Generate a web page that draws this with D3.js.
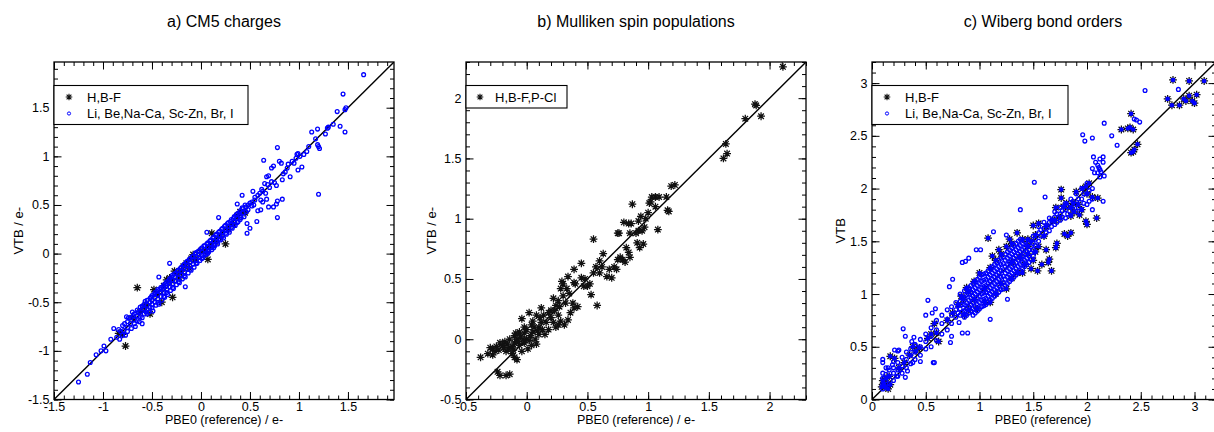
<!DOCTYPE html>
<html>
<head>
<meta charset="utf-8">
<script src="https://cdn.jsdelivr.net/npm/d3@7"></script>
<style>
  body { margin: 0; background: #fff; }
  svg { font-family: "Liberation Sans", Arial, Helvetica, sans-serif; }
</style>
</head>
<body>
<div id="chart"></div>
<script>
// ---- data ----
var titles = ['a) CM5 charges', 'b) Mulliken spin populations', 'c) Wiberg bond orders'];
var xTitles = ['PBE0 (reference)  / e-', 'PBE0 (reference) / e-', 'PBE0 (reference)'];
var yTitles = ['VTB / e-', 'VTB / e-', 'VTB'];
var legendA = ['H,B-F', 'Li, Be,Na-Ca, Sc-Zn, Br, I'];
var legendB = ['H,B-F,P-Cl'];
var legendC = ['H,B-F', 'Li, Be,Na-Ca, Sc-Zn, Br, I'];

var ticksA = [-1.5, -1, -0.5, 0, 0.5, 1, 1.5];
var ticksB = [-0.5, 0, 0.5, 1, 1.5, 2];
var ticksC = [0, 0.5, 1, 1.5, 2, 2.5, 3];

// panel a, H,B-F
var aStars = [[-0.77,-0.95],[-0.80,-0.83],[-0.84,-0.82],[-0.65,-0.35],[-0.48,-0.37],[-0.29,-0.45],
  [-0.52,-0.62],[-0.40,-0.50],[-0.32,-0.25],[-0.08,-0.01],[0.07,-0.06],[0.11,0.21],[0.25,0.10],
  [0.37,0.39],[-0.70,-0.66],[-0.62,-0.60],[-0.56,-0.52],[-0.45,-0.42],[-0.38,-0.33],[-0.30,-0.28],
  [-0.25,-0.20],[-0.20,-0.18],[-0.15,-0.10],[-0.10,-0.05],[-0.05,-0.06],[0.00,0.03],[0.05,0.02],
  [0.10,0.08],[0.15,0.12],[0.20,0.18],[0.28,0.25],[0.33,0.30],[0.40,0.43],[0.45,0.42],
  [-0.35,-0.27],[-0.22,-0.25],[-0.58,-0.55],[-0.12,-0.15],[-0.27,-0.18],[-0.18,-0.13]];

// panel a, other elements
var aCircles = [[1.66,1.84],[1.45,1.64],[1.39,1.46],[1.47,1.48],[1.48,1.50],[1.42,1.31],[1.47,1.25],
  [1.29,1.29],[1.27,1.23],[1.19,1.28],[1.17,1.18],[1.19,1.12],[1.21,1.08],[1.20,1.10],[1.13,1.25],
  [1.10,1.10],[0.78,1.09],[0.64,0.96],[0.80,0.95],[0.82,0.93],[0.88,0.88],[0.97,0.98],[0.99,1.03],
  [1.01,1.00],[0.98,1.02],[1.03,0.89],[0.91,0.79],[0.99,0.86],[1.20,0.61],[0.78,0.37],[0.74,0.48],
  [0.77,0.51],[0.72,0.88],[0.74,0.90],[0.67,0.79],[0.69,0.80],[0.65,0.72],[0.57,0.33],[0.58,0.44],
  [0.47,0.21],[0.50,0.26],[0.42,0.60],[0.53,0.64],[0.61,0.55],[0.63,0.53],[0.84,0.82],[0.86,0.84],
  [0.93,0.95],[0.95,0.93],[0.70,0.68],[0.75,0.73],[0.62,0.66],[0.60,0.62],[0.55,0.55],[0.52,0.49],
  [0.48,0.50],[0.66,0.62],[0.89,0.92],[1.05,1.02],[1.08,1.05],[1.30,1.30],[1.35,1.33],[0.77,0.70],
  [0.83,0.76],[0.78,0.54],[0.83,0.56],[0.69,0.48],[0.67,0.56],[0.61,0.45],[0.55,0.58],
  [-1.25,-1.32],[-1.16,-1.24],[-1.13,-1.12],[-1.07,-1.04],[-0.99,-0.95],[-0.97,-1.00],[-1.02,-1.00],
  [-0.89,-0.77],[-0.78,-0.72],[-0.76,-0.65],[-0.70,-0.60],[-0.60,-0.72],[-0.43,-0.24],[-0.32,-0.10],
  [-0.16,-0.34],[0.18,0.37],[0.06,0.22],[0.37,0.51],[0.47,0.31],[-0.92,-0.88],[-0.86,-0.86],
  [-0.82,-0.80],[-0.80,-0.84],
  [-0.75,-0.70],[-0.75,-0.76],[-0.75,-0.80],[-0.72,-0.66],[-0.72,-0.72],[-0.68,-0.62],[-0.68,-0.68],
  [-0.68,-0.72],[-0.65,-0.58],[-0.65,-0.64],[-0.65,-0.69],[-0.62,-0.55],[-0.62,-0.60],[-0.62,-0.65],
  [-0.58,-0.52],[-0.58,-0.57],[-0.58,-0.62],[-0.55,-0.48],[-0.55,-0.53],[-0.55,-0.58],[-0.55,-0.62],
  [-0.52,-0.46],[-0.52,-0.50],[-0.52,-0.55],[-0.50,-0.43],[-0.50,-0.48],[-0.50,-0.52],[-0.50,-0.56],
  [-0.47,-0.40],[-0.47,-0.45],[-0.47,-0.50],[-0.44,-0.37],[-0.44,-0.42],[-0.44,-0.47],[-0.44,-0.50],
  [-0.41,-0.35],[-0.41,-0.40],[-0.41,-0.44],[-0.38,-0.32],[-0.38,-0.36],[-0.38,-0.40],[-0.38,-0.44],
  [-0.35,-0.29],[-0.35,-0.33],[-0.35,-0.37],[-0.35,-0.40],[-0.32,-0.26],[-0.32,-0.30],[-0.32,-0.34],
  [-0.29,-0.22],[-0.29,-0.27],[-0.29,-0.31],[-0.29,-0.35],[-0.26,-0.20],[-0.26,-0.24],[-0.26,-0.28],
  [-0.23,-0.17],[-0.23,-0.21],[-0.23,-0.25],[-0.23,-0.29],[-0.20,-0.14],[-0.20,-0.18],[-0.20,-0.22],
  [-0.17,-0.11],[-0.17,-0.15],[-0.17,-0.19],[-0.17,-0.23],[-0.14,-0.08],[-0.14,-0.12],[-0.14,-0.16],
  [-0.11,-0.05],[-0.11,-0.09],[-0.11,-0.13],[-0.11,-0.16],[-0.08,-0.03],[-0.08,-0.07],[-0.08,-0.11],
  [-0.05,0.01],[-0.05,-0.03],[-0.05,-0.07],[-0.05,-0.10],[-0.02,0.03],[-0.02,-0.01],[-0.02,-0.04],
  [0.01,0.06],[0.01,0.02],[0.01,-0.02],[0.01,-0.05],[0.04,0.08],[0.04,0.04],[0.04,0.00],
  [0.07,0.11],[0.07,0.07],[0.07,0.03],[0.07,0.00],[0.10,0.14],[0.10,0.10],[0.10,0.06],
  [0.13,0.17],[0.13,0.13],[0.13,0.09],[0.13,0.06],[0.16,0.20],[0.16,0.16],[0.16,0.12],
  [0.19,0.23],[0.19,0.19],[0.19,0.15],[0.22,0.26],[0.22,0.22],[0.22,0.18],[0.25,0.29],[0.25,0.25],
  [0.25,0.21],[0.28,0.32],[0.28,0.28],[0.28,0.24],[0.31,0.35],[0.31,0.30],[0.31,0.27],[0.34,0.38],
  [0.34,0.33],[0.34,0.30],[0.37,0.41],[0.37,0.36],[0.37,0.32],[0.40,0.44],[0.40,0.39],[0.40,0.35],
  [0.43,0.46],[0.43,0.42],[0.46,0.48],[0.46,0.43],
  [-0.84,-0.78],[-0.83,-0.88],[-0.80,-0.74],[-0.79,-0.79],[-0.77,-0.84],[-0.74,-0.66],[-0.71,-0.77],
  [-0.69,-0.64],[-0.67,-0.75],[-0.64,-0.60],[-0.63,-0.70],[-0.60,-0.54],[-0.60,-0.66],[-0.57,-0.49],
  [-0.56,-0.60],[-0.53,-0.60],[-0.51,-0.45],[-0.49,-0.59],[-0.48,-0.42],[-0.46,-0.53],[-0.45,-0.39],
  [-0.43,-0.52],[-0.42,-0.37],[-0.40,-0.48],[-0.39,-0.34],[-0.37,-0.45],[-0.36,-0.31],[-0.34,-0.42],
  [-0.33,-0.28],[-0.31,-0.38],[-0.30,-0.24],[-0.28,-0.36],[-0.27,-0.21],[-0.25,-0.32],[-0.24,-0.18],
  [-0.22,-0.30],[-0.21,-0.15],[-0.19,-0.26],[-0.18,-0.12],[-0.16,-0.24],[-0.15,-0.09],[-0.13,-0.20],
  [-0.12,-0.06],[-0.10,-0.17],[-0.09,-0.03],[-0.07,-0.14],[-0.06,0.00],[-0.04,-0.10],[-0.03,0.02],
  [-0.01,-0.07],[0.00,0.05],[0.02,-0.04],[0.03,0.08],[0.05,-0.01],[0.06,0.10],[0.08,0.02],[0.09,0.13],
  [0.11,0.04],[0.12,0.16],[0.14,0.08],[0.15,0.19],[0.17,0.10],[0.18,0.22],[0.20,0.14],[0.21,0.25],
  [0.23,0.16],[0.24,0.28],[0.26,0.20],[0.27,0.31],[0.29,0.22],[0.30,0.33],[0.32,0.26],[0.33,0.36],
  [0.35,0.29],[0.36,0.40],[0.38,0.33],[0.39,0.42],[0.41,0.37],[0.42,0.47],[0.44,0.38],[0.45,0.50],
  [0.48,0.45],[0.50,0.52],[0.52,0.53],[0.54,0.50],[0.58,0.60],[0.63,0.64],[0.68,0.71],[0.72,0.74]];

// panel b, H,B-F,P-Cl
var bStars = [[2.11,2.26],[1.89,1.94],[1.88,1.95],[1.80,1.83],[1.93,1.85],[1.62,1.50],[1.64,1.62],
  [1.65,1.54],[1.22,1.28],[1.19,1.27],[1.15,1.18],[1.17,1.06],[1.16,1.07],[1.06,1.18],[1.09,1.18],
  [1.03,1.18],[1.02,1.14],[1.01,1.13],[1.06,1.10],[0.87,1.12],[0.92,0.98],[0.94,1.02],[0.98,1.00],
  [1.00,1.05],[0.97,0.93],[1.08,0.91],[0.86,0.96],[0.84,0.96],[0.85,0.88],[0.80,0.97],[0.76,0.88],
  [0.75,0.88],[0.92,0.90],[0.95,0.90],[0.90,0.88],[0.91,0.80],[0.93,0.76],[0.96,0.79],[0.82,0.76],
  [0.84,0.72],[0.85,0.68],[0.79,0.66],[0.81,0.64],[0.77,0.68],[0.75,0.66],[0.63,0.71],[0.55,0.83],
  [0.60,0.65],[0.62,0.60],[0.66,0.52],[0.70,0.51],[0.68,0.58],[0.72,0.60],[0.74,0.58],[0.58,0.28],
  [0.53,0.37],[0.50,0.44],[0.45,0.51],[0.39,0.47],[0.40,0.46],[0.45,0.63],[0.39,0.58],[0.34,0.52],
  [0.30,0.46],[0.29,0.48],[0.28,0.42],[0.33,0.42],[0.35,0.38],[0.30,0.36],[0.26,0.32],[0.32,0.30],
  [0.38,0.30],[0.42,0.27],[0.39,0.26],[0.36,0.22],[0.34,0.16],[0.31,0.12],[0.24,0.28],[0.26,0.20],
  [0.28,0.15],[0.22,0.34],[0.20,0.24],[0.24,0.10],[0.22,0.14],[0.26,0.12],[0.14,0.20],[0.12,0.26],
  [0.16,0.14],[0.13,0.08],[0.10,0.10],[0.08,0.20],[0.02,0.22],[-0.04,0.17],[0.10,0.04],[0.07,0.00],
  [0.05,0.06],[0.03,0.03],[0.00,0.08],[0.00,0.00],[-0.02,0.05],[-0.02,-0.03],[-0.05,0.02],
  [-0.06,-0.05],[-0.08,0.00],[-0.10,-0.03],[-0.10,0.03],[-0.12,-0.06],[-0.14,0.00],[-0.16,-0.04],
  [-0.18,-0.02],[-0.20,-0.05],[-0.22,-0.03],[-0.25,-0.06],[-0.28,-0.08],[-0.30,-0.07],[-0.32,-0.12],
  [-0.38,-0.15],[-0.24,-0.27],[-0.22,-0.30],[-0.17,-0.30],[-0.14,-0.29],[-0.08,-0.17],[-0.10,-0.15],
  [-0.17,-0.10],[-0.13,-0.07],[-0.12,-0.12],[0.04,-0.05],[0.06,0.10],[0.15,0.04],[0.18,0.08],
  [-0.04,-0.10],[-0.26,-0.10],[-0.28,-0.13],[0.12,0.14],[0.20,0.18],[0.47,0.44],[0.48,0.50],
  [0.52,0.46],[0.55,0.55],[0.60,0.55],[0.57,0.60],[-0.06,0.06],[0.04,0.12],[-0.15,-0.08],[0.08,-0.04],
  [-0.07,-0.02],[-0.03,0.00],[0.01,-0.08],[-0.11,-0.09],[-0.19,-0.07],[-0.23,-0.09],[-0.02,0.10],
  [0.05,0.15],[0.09,0.07],[0.02,-0.01],[-0.09,0.05],[0.11,0.18],[0.18,0.22],[0.23,0.24],[0.27,0.27]];

// panel c, H,B-F
var cStars = [[2.80,3.03],[2.95,3.02],[3.09,3.02],[2.75,2.85],[2.79,2.79],[2.86,2.79],[2.90,2.85],
  [2.92,2.83],[2.95,2.88],[3.02,2.89],[3.00,2.81],[2.98,2.83],[2.41,2.71],[2.32,2.56],[2.38,2.57],
  [2.40,2.58],[2.43,2.56],[2.41,2.34],[2.43,2.35],[2.44,2.37],[2.47,2.42],[1.76,1.99],[1.76,1.91],
  [1.71,1.82],[1.78,1.83],[1.81,1.86],[1.87,1.86],[1.90,1.97],[1.96,2.00],[1.99,2.02],[2.02,2.05],
  [2.10,1.91],[2.09,1.72],[2.00,1.66],[1.99,1.69],[1.93,1.75],[1.85,1.74],[1.82,1.55],[1.85,1.58],
  [1.79,1.57],[1.71,1.44],[1.72,1.48],[1.65,1.33],[1.64,1.30],[1.67,1.22],[1.54,1.22],[1.62,1.42],
  [1.52,1.56],[1.62,1.64],[1.50,1.65],[1.55,1.67],[1.68,1.70],[1.08,1.53],[1.35,1.58],[1.40,1.52],
  [1.30,1.48],[1.25,1.45],[1.45,1.45],[1.20,1.38],[1.15,1.32],[1.10,1.25],[1.30,1.30],[1.38,1.35],
  [1.42,1.28],[1.00,1.20],[0.95,1.12],[0.90,1.02],[0.85,0.95],[0.80,0.90],[0.95,0.95],[1.05,1.05],
  [1.20,1.10],[1.30,1.15],[1.35,1.20],[1.15,1.00],[1.05,0.92],[0.90,0.85],[0.58,0.72],[0.60,0.63],
  [0.44,0.49],[0.41,0.46],[0.17,0.41],[0.21,0.39],[0.10,0.18],[0.12,0.12],[0.15,0.10],[0.09,0.12],
  [0.11,0.15],[0.17,0.14],[0.13,0.20],[0.16,0.22],[1.85,1.82],[1.92,1.85],[2.05,1.92],[2.00,1.95],
  [1.95,1.80],[1.88,1.78],[1.70,1.70],[1.75,1.72],[1.60,1.55],[1.48,1.50],[1.55,1.45],[1.45,1.38],
  [1.58,1.28],[1.50,1.32],[1.52,1.40],[0.35,0.42],[0.38,0.50],[0.25,0.30],[0.30,0.35],[0.52,0.58],
  [0.55,0.62],[0.62,0.55],[0.70,0.75],[0.75,0.82],[0.83,0.98],[0.88,1.06],[1.12,1.36],[1.18,1.42],
  [1.28,1.52],[1.45,1.52],[1.48,1.24],[1.40,1.20],[1.25,1.05],[1.10,0.92],[0.98,0.86],[0.86,0.80]];

// panel c, other elements
var cCircles = [[2.54,2.93],[2.85,2.94],[2.16,2.62],[1.96,2.51],[1.98,2.45],[2.05,2.48],[2.23,2.50],
  [2.28,2.41],[2.44,2.66],[2.46,2.65],[2.49,2.63],[2.06,2.30],[2.08,2.25],[2.11,2.20],[2.13,2.16],
  [2.16,2.12],[2.12,2.11],[2.05,2.19],[2.07,2.15],[2.15,1.88],[1.51,2.06],[1.61,1.92],[1.38,1.80],
  [1.13,1.59],[1.25,1.56],[0.97,1.42],[1.01,1.42],[0.84,1.30],[0.90,1.34],[0.87,1.31],[0.75,1.14],
  [0.72,1.07],[0.52,0.94],[0.59,0.86],[0.50,0.80],[0.56,0.82],[0.29,0.67],[0.31,0.60],[0.39,0.59],
  [0.37,0.55],[0.40,0.52],[0.25,0.47],[0.24,0.46],[0.21,0.47],[0.10,0.38],[0.10,0.35],[0.15,0.30],
  [0.19,0.33],[0.26,0.28],[0.33,0.27],[0.31,0.21],[0.23,0.22],[0.38,0.35],[0.45,0.36],[0.58,0.35],
  [0.57,0.35],[0.89,0.63],[0.84,0.63],[1.10,0.76],[1.26,0.95],[0.73,0.54],[0.74,0.60],[0.81,0.73],
  [0.78,0.78],[0.78,0.85],[0.78,0.92],[0.82,0.80],[0.82,0.86],[0.82,0.93],[0.82,1.00],
  [0.86,0.78],[0.86,0.84],[0.86,0.90],[0.86,0.97],[0.86,1.03],[0.90,0.82],[0.90,0.88],[0.90,0.94],
  [0.90,1.00],[0.90,1.06],[0.94,0.80],[0.94,0.86],[0.94,0.92],[0.94,0.98],[0.94,1.04],[0.94,1.10],
  [0.98,0.84],[0.98,0.90],[0.98,0.96],[0.98,1.02],[0.98,1.08],[0.98,1.14],[1.02,0.88],[1.02,0.94],
  [1.02,1.00],[1.02,1.06],[1.02,1.12],[1.02,1.18],[1.06,0.90],[1.06,0.96],[1.06,1.02],[1.06,1.08],
  [1.06,1.14],[1.06,1.20],[1.10,0.94],[1.10,1.00],[1.10,1.06],[1.10,1.12],[1.10,1.18],[1.10,1.24],
  [1.14,0.98],[1.14,1.04],[1.14,1.10],[1.14,1.16],[1.14,1.22],[1.14,1.28],[1.18,1.02],[1.18,1.08],
  [1.18,1.14],[1.18,1.20],[1.18,1.26],[1.18,1.32],[1.22,1.05],[1.22,1.11],[1.22,1.17],[1.22,1.23],
  [1.22,1.29],[1.22,1.35],[1.26,1.10],[1.26,1.16],[1.26,1.22],[1.26,1.28],[1.26,1.34],[1.26,1.40],
  [1.30,1.14],[1.30,1.20],[1.30,1.26],[1.30,1.32],[1.30,1.38],[1.30,1.44],[1.34,1.18],[1.34,1.24],
  [1.34,1.30],[1.34,1.36],[1.34,1.42],[1.34,1.48],[1.38,1.22],[1.38,1.28],[1.38,1.34],[1.38,1.40],
  [1.38,1.46],[1.38,1.52],[1.42,1.26],[1.42,1.32],[1.42,1.38],[1.42,1.44],[1.42,1.50],[1.46,1.30],
  [1.46,1.36],[1.46,1.42],[1.46,1.48],[1.50,1.36],[1.50,1.42],[1.50,1.48],[1.50,1.55],[1.55,1.50],
  [1.55,1.58],[1.55,1.64],[1.60,1.55],[1.60,1.62],[1.60,1.68],[1.65,1.60],[1.65,1.68],[1.65,1.72],
  [1.70,1.66],[1.70,1.73],[1.70,1.78],[1.75,1.70],[1.75,1.76],[1.75,1.82],[1.80,1.72],[1.80,1.80],
  [1.80,1.86],[1.85,1.75],[1.85,1.82],[1.85,1.90],[1.90,1.78],[1.90,1.85],[1.90,1.95],[1.95,1.80],
  [1.95,1.90],[1.95,2.00],[2.00,1.85],[2.00,1.95],[2.00,2.05],[2.05,1.80],[2.05,1.90],[2.05,2.00],
  [2.10,2.15],[2.10,2.22],[2.12,2.18],[2.12,2.28],[2.15,2.25],[2.15,2.30],
  [0.10,0.10],[0.10,0.15],[0.10,0.20],[0.10,0.25],[0.13,0.12],[0.13,0.18],[0.13,0.24],[0.13,0.30],
  [0.16,0.15],[0.16,0.22],[0.16,0.28],[0.20,0.18],[0.20,0.25],[0.20,0.30],[0.20,0.36],[0.24,0.22],
  [0.24,0.28],[0.24,0.35],[0.28,0.25],[0.28,0.32],[0.28,0.40],[0.32,0.30],[0.32,0.38],[0.32,0.45],
  [0.36,0.34],[0.36,0.42],[0.36,0.48],[0.40,0.38],[0.40,0.45],[0.40,0.52],[0.45,0.42],[0.45,0.50],
  [0.45,0.57],[0.50,0.48],[0.50,0.55],[0.50,0.62],[0.55,0.50],[0.55,0.60],[0.55,0.68],[0.60,0.56],
  [0.60,0.66],[0.60,0.75],[0.65,0.62],[0.65,0.72],[0.65,0.80],[0.70,0.66],[0.70,0.76],[0.70,0.85],
  [0.74,0.72],[0.74,0.80],[0.74,0.88],
  [0.80,0.82],[0.80,0.89],[0.84,0.83],[0.84,0.90],[0.84,0.96],[0.88,0.80],[0.88,0.86],[0.88,0.92],
  [0.88,0.99],[0.88,1.05],[0.92,0.84],[0.92,0.90],[0.92,0.96],[0.92,1.02],[0.92,1.08],[0.96,0.82],
  [0.96,0.88],[0.96,0.94],[0.96,1.00],[0.96,1.06],[0.96,1.12],[1.00,0.86],[1.00,0.92],[1.00,0.98],
  [1.00,1.04],[1.00,1.10],[1.00,1.16],[1.04,0.89],[1.04,0.95],[1.04,1.01],[1.04,1.07],[1.04,1.13],
  [1.04,1.19],[1.08,0.92],[1.08,0.98],[1.08,1.04],[1.08,1.10],[1.08,1.16],[1.08,1.22],[1.12,0.96],
  [1.12,1.02],[1.12,1.08],[1.12,1.14],[1.12,1.20],[1.12,1.26],[1.16,1.00],[1.16,1.06],[1.16,1.12],
  [1.16,1.18],[1.16,1.24],[1.16,1.30],[1.20,1.04],[1.20,1.10],[1.20,1.16],[1.20,1.22],[1.20,1.28],
  [1.20,1.34],[1.24,1.08],[1.24,1.14],[1.24,1.20],[1.24,1.26],[1.24,1.32],[1.24,1.38],[1.28,1.12],
  [1.28,1.18],[1.28,1.24],[1.28,1.30],[1.28,1.36],[1.28,1.42],[1.32,1.16],[1.32,1.22],[1.32,1.28],
  [1.32,1.34],[1.32,1.40],[1.32,1.46],[1.36,1.20],[1.36,1.26],[1.36,1.32],[1.36,1.38],[1.36,1.44],
  [1.36,1.50],[1.40,1.24],[1.40,1.30],[1.40,1.36],[1.40,1.42],[1.40,1.48],[1.44,1.28],[1.44,1.34],
  [1.44,1.40],[1.44,1.46],[1.48,1.33],[1.48,1.39],[1.48,1.45],[1.52,1.40],[1.52,1.46],[1.52,1.52],
  [1.57,1.55],[1.57,1.61],[1.62,1.58],[1.62,1.65],[1.67,1.64],[1.67,1.70],[1.72,1.68],[1.72,1.76],
  [1.77,1.73],[1.77,1.79],[1.82,1.76],[1.82,1.83],[1.87,1.80],[1.87,1.88],[1.92,1.82],[1.92,1.90],
  [1.97,1.86],[1.97,1.95],[2.02,1.88],[2.02,1.98]];

// ---- layout ----
var width = 1214, height = 432;
var frameTop = 62, frameBottom = 399.5;

var panels = [
  { left: 54, right: 394, domain: [-1.5, 1.97], ticks: ticksA, title: titles[0], xTitle: xTitles[0],
    yTitle: yTitles[0], yTitleX: 18, legend: legendA, legendW: 194, stars: aStars, circles: aCircles,
    starDot: false, titleX: 224, xTitleX: 224 },
  { left: 466, right: 806, domain: [-0.5, 2.3], ticks: ticksB, title: titles[1], xTitle: xTitles[1],
    yTitle: yTitles[1], yTitleX: 431, legend: legendB, legendW: 101, stars: bStars, circles: null,
    starDot: false, titleX: 636, xTitleX: 636 },
  { left: 872, right: 1216, domain: [0, 3.2], ticks: ticksC, title: titles[2], xTitle: xTitles[2],
    yTitle: yTitles[2], yTitleX: 840, legend: legendC, legendW: 196, stars: cStars, circles: cCircles,
    starDot: true, titleX: 1043, xTitleX: 1043 }
];

var svg = d3.select('#chart')
  .append('svg')
  .attr('width', width)
  .attr('height', height);

// eight-armed asterisk like the plotting program uses
function starPath(s) {
  var d = s * 0.72;
  return 'M' + (-s) + ',0H' + s + 'M0,' + (-s) + 'V' + s +
    'M' + (-d) + ',' + (-d) + 'L' + d + ',' + d + 'M' + (-d) + ',' + d + 'L' + d + ',' + (-d);
}

function fmt(d) {
  return String(+d.toFixed(1));
}

panels.forEach(function(p, pi) {
  var x = d3.scaleLinear().domain(p.domain).range([p.left, p.right]);
  var y = d3.scaleLinear().domain(p.domain).range([frameBottom, frameTop]);
  var minors = d3.range(Math.ceil(p.domain[0] * 10), Math.floor(p.domain[1] * 10) + 1)
    .map(function(v) { return v / 10; });

  var g = svg.append('g').attr('class', 'panel');

  // clip to frame
  var clipId = 'clip' + pi;
  svg.append('clipPath').attr('id', clipId)
    .append('rect')
    .attr('x', p.left).attr('y', frameTop)
    .attr('width', p.right - p.left).attr('height', frameBottom - frameTop);

  var plot = g.append('g').attr('clip-path', 'url(#' + clipId + ')');

  // diagonal
  plot.append('line')
    .attr('x1', x(p.domain[0])).attr('y1', y(p.domain[0]))
    .attr('x2', x(p.domain[1])).attr('y2', y(p.domain[1]))
    .attr('stroke', '#000')
    .attr('stroke-width', 1.4);

  // stars
  plot.selectAll('path.star')
    .data(p.stars)
    .enter()
    .append('path')
    .attr('class', 'star')
    .attr('d', starPath(3.9))
    .attr('transform', function(d) { return 'translate(' + x(d[0]) + ',' + y(d[1]) + ')'; })
    .attr('stroke', '#111')
    .attr('stroke-width', 1.25)
    .attr('fill', 'none');

  if (p.starDot) {
    plot.selectAll('circle.sdot')
      .data(p.stars)
      .enter()
      .append('circle')
      .attr('class', 'sdot')
      .attr('cx', function(d) { return x(d[0]); })
      .attr('cy', function(d) { return y(d[1]); })
      .attr('r', 2.3)
      .attr('fill', '#0000ff');
  }

  if (p.circles) {
    plot.selectAll('circle.pt')
      .data(p.circles)
      .enter()
      .append('circle')
      .attr('class', 'pt')
      .attr('cx', function(d) { return x(d[0]); })
      .attr('cy', function(d) { return y(d[1]); })
      .attr('r', 1.9)
      .attr('fill', 'none')
      .attr('stroke', '#0000ff')
      .attr('stroke-width', 1.3);
  }

  // axes, ticks inward on all four sides
  var axes = [
    { a: d3.axisBottom(x), t: 'translate(0,' + frameBottom + ')', lab: true },
    { a: d3.axisTop(x), t: 'translate(0,' + frameTop + ')', lab: false },
    { a: d3.axisLeft(y), t: 'translate(' + p.left + ',0)', lab: true },
    { a: d3.axisRight(y), t: 'translate(' + p.right + ',0)', lab: false }
  ];
  axes.forEach(function(ax, ai) {
    g.append('g')
      .attr('transform', ax.t)
      .call(ax.a.tickValues(minors).tickSize(-4).tickFormat(''))
      .call(function(s) { s.select('.domain').remove(); });
    var major = g.append('g')
      .attr('transform', ax.t)
      .call(ax.a.tickValues(p.ticks).tickSize(-7.5).tickPadding(ai === 0 ? 3 : 4.5)
        .tickFormat(ax.lab ? fmt : ''))
      .call(function(s) { s.select('.domain').remove(); });
    major.selectAll('text')
      .attr('fill', '#000')
      .style('font-size', '12.5px');
  });
  g.selectAll('.tick line').attr('stroke', '#000').attr('stroke-width', 1);

  // frame
  g.append('rect')
    .attr('x', p.left).attr('y', frameTop)
    .attr('width', p.right - p.left).attr('height', frameBottom - frameTop)
    .attr('fill', 'none')
    .attr('stroke', '#000')
    .attr('stroke-width', 1.3);

  // titles
  svg.append('text')
    .attr('x', p.titleX).attr('y', 27)
    .attr('text-anchor', 'middle')
    .style('font-size', '16px')
    .text(p.title);

  svg.append('text')
    .attr('x', p.xTitleX).attr('y', 424)
    .attr('text-anchor', 'middle')
    .style('font-size', '12.5px')
    .text(p.xTitle);

  svg.append('text')
    .attr('transform', 'translate(' + (p.yTitleX + 4.5) + ',' + ((frameTop + frameBottom) / 2) + ')rotate(-90)')
    .attr('text-anchor', 'middle')
    .style('font-size', '13px')
    .text(p.yTitle);

  // legend
  var rowH = 16.5;
  var lg = g.append('g');
  lg.append('rect')
    .attr('x', p.left).attr('y', 85.5)
    .attr('width', p.legendW).attr('height', 6 + rowH * p.legend.length)
    .attr('fill', '#fff')
    .attr('stroke', '#000')
    .attr('stroke-width', 1.1);
  p.legend.forEach(function(name, i) {
    var cy = 97 + i * rowH;
    var sx = p.left + (pi === 1 ? 14 : 15);
    if (i === 0) {
      lg.append('path')
        .attr('d', starPath(3.3))
        .attr('transform', 'translate(' + sx + ',' + cy + ')')
        .attr('stroke', '#111')
        .attr('stroke-width', 1.1)
        .attr('fill', 'none');
    } else {
      lg.append('circle')
        .attr('cx', sx).attr('cy', cy)
        .attr('r', 1.6)
        .attr('fill', 'none')
        .attr('stroke', '#0000ff')
        .attr('stroke-width', 1);
    }
    lg.append('text')
      .attr('x', p.left + (pi === 1 ? 29 : 33))
      .attr('y', cy + 4.5)
      .style('font-size', '13px')
      .text(name);
  });
});
</script>
</body>
</html>
